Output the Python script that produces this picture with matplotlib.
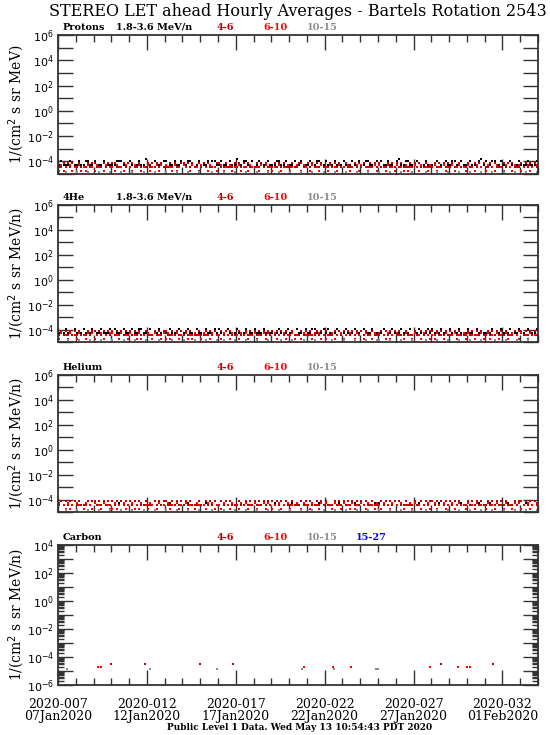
import numpy as np
import matplotlib
matplotlib.use("Agg")
import matplotlib.pyplot as plt
from matplotlib.ticker import FixedLocator, NullFormatter

# Bartels rotation 2543: day-of-year 7 .. 34 (2020)
day_start, day_end = 7, 34
tick_days = [7, 12, 17, 22, 27, 32]
tick_labels = ["2020-007\n07Jan2020", "2020-012\n12Jan2020", "2020-017\n17Jan2020",
               "2020-022\n22Jan2020", "2020-027\n27Jan2020", "2020-032\n01Feb2020"]

# counts per 3-hour bin (8 per day, 216 per series); flux = count * base level
prot_18 = ("121112011211221120112111" "112221102111211311021112" "201121121122101211121221"
           "121102113112211201211121" "112211201121121112012211" "211121112101211211221112"
           "121121102311221112011211" "112011211221121102111231" "211221121102111211121112")
prot_46 = ("112121211211121221112121" "221112121211211121212121" "112121122121211212121112"
           "211211121212121112121211" "121212111211221121212121" "112121211211121212112121"
           "211121212121112121211211" "121212121211211121121212" "112121112121211121212121")
prot_610 = ("131203120312130213201302" "213021302130312031203130" "302131203201302130213021"
            "031203120312013202130312" "120312031203013201302130" "213021302031203130212031"
            "302130213021312032130213" "031203120312302130213020" "130213021302130312031203")
prot_1015 = ("000100001000010000100001" "000010000100001000010000" "100001000010000100000100"
             "001000010000100001000010" "000100001000010000100001" "000010000100001000010000"
             "100001000010000100000100" "001000010000100001000010" "000100001000010000100001")

he4_18 = ("111211021112111201121112" "121102111211221112011211" "112111201121112111211021"
          "211021112111201121112111" "111211121102111211221112" "121112011211121102111211"
          "112011211121112011211121" "211121102111211121102111" "111201121112111211021112")
he4_46 = ("121212121211121221212121" "212121212121211211121212" "211212121212111211212121"
          "121212111211212121212121" "212121211211121212112121" "211121212121212121211211"
          "121212121211211121121212" "212121212121211121212121" "121212121211121221212121")
he4_610 = ("130213021302130312031203" "302130213021312032130213" "131203120312130213201302"
           "213021302130312031203130" "031203120312013202130312" "120312031203013201302130"
           "302131203201302130213021" "213021302031203130212031" "031203120312302130213020")
he4_1015 = ("000010000100001000010000" "100001000010000100000100" "000100001000010000100001"
            "001000010000100001000010" "000010000100001000010000" "000100001000010000100001"
            "100001000010000100000100" "001000010000100001000010" "000010000100001000010000")

hel_18 = ("100000001000000010000000" "000100000000010000000100" "001000000010000000100000"
          "000000100000000010000000" "010000000100000000000100" "000000100000010000000010"
          "100000000010000000100000" "000100000000010000000100" "001000000010000000100000")
hel_46 = ("121212121211121221212121" "212121212121211211121212" "211212121212111211212121"
          "121212111211212121212121" "212121211211121212112121" "211121212121212121211211"
          "121212121211211121121212" "212121212121211121212121" "121212121211121221212121")
hel_610 = ("302131203201302130213021" "131203120312130213201302" "031203120312013202130312"
           "213021302130312031203130" "120312031203013201302130" "302130213021312032130213"
           "213021302031203130212031" "031203120312302130213020" "130213021302130312031203")
hel_1015 = ("000100001000010000100001" "000010000100001000010000" "100001000010000100000100"
            "001000010000100001000010" "000100001000010000100001" "000010000100001000010000"
            "100001000010000100000100" "001000010000100001000010" "000100001000010000100001")

# base flux of one count for each channel, per panel
base_prot = [5.2e-5, 3.6e-5, 1.7e-5, 1.35e-5]
base_he4 = [5.2e-5, 3.6e-5, 1.7e-5, 1.35e-5]
base_hel = [5.2e-5, 3.6e-5, 1.7e-5, 1.35e-5]

# carbon: sparse single counts (day of year, flux)
c_46_days = [10.0, 11.9, 15.0, 16.85, 28.55, 31.45]
c_46_flux = [3.4e-5, 3.4e-5, 3.4e-5, 3.4e-5, 3.4e-5, 3.4e-5]
c_610_days = [9.25, 9.4, 20.85, 22.45, 23.5, 27.95, 29.5, 30.0, 30.15]
c_610_flux = [1.8e-5, 1.8e-5, 1.8e-5, 1.8e-5, 1.8e-5, 1.8e-5, 1.8e-5, 1.8e-5, 1.8e-5]
c_1015_days = [7.5, 12.2, 15.95, 20.7, 22.55, 24.9, 25.0]
c_1015_flux = [1.35e-5, 1.35e-5, 1.35e-5, 1.35e-5, 1.35e-5, 1.35e-5, 1.35e-5]

colors = ["black", "#c00000", "#ff0000", "#8c8c8c", "#0000ff"]
chan_labels = ["1.8-3.6 MeV/n", "4-6", "6-10", "10-15", "15-27"]
chan_px = [116, 217, 263, 307, 356]

W, H = 550, 735
fig = plt.figure(figsize=(W / 100, H / 100), dpi=100)
serif = "DejaVu Serif"

fig.text(298 / W, 1 - 11 / H, "STEREO LET ahead Hourly Averages - Bartels Rotation 2543",
         ha="center", va="center", fontsize=11.5, family=serif)
fig.text(300 / W, 1 - 728 / H, "Public Level 1 Data. Wed May 13 10:54:43 PDT 2020",
         ha="center", va="center", fontsize=6.5, family=serif, fontweight="bold")

panels = [
    ("Protons", (35, 174), (1e-5, 1e6), [prot_18, prot_46, prot_610, prot_1015], base_prot,
     "1/(cm$^2$ s sr MeV)"),
    ("4He", (205, 342), (1e-5, 1e6), [he4_18, he4_46, he4_610, he4_1015], base_he4,
     "1/(cm$^2$ s sr MeV/n)"),
    ("Helium", (375, 512), (1e-5, 1e6), [hel_18, hel_46, hel_610, hel_1015], base_hel,
     "1/(cm$^2$ s sr MeV/n)"),
    ("Carbon", (545, 685), (1e-6, 1e4), None, None, "1/(cm$^2$ s sr MeV/n)"),
]

left, right = 58, 538
for k, (name, (top, bot), ylim, series, bases, ylab) in enumerate(panels):
    ax = fig.add_axes([left / W, 1 - bot / H, (right - left) / W, (bot - top) / H])
    ax.set_yscale("log")
    ax.set_xlim(day_start, day_end)
    ax.set_ylim(*ylim)

    if series is not None:
        for s, b, c in zip(series, bases, colors):
            cnt = np.array([int(ch) for ch in s], dtype=float)
            x = day_start + (np.arange(len(cnt)) + 0.5) * 3 / 24
            y = np.where(cnt > 0, cnt * b, np.nan)
            ax.plot(x, y, ls="none", marker="s", ms=1.7, mew=0, color=c)
    else:
        ax.plot(c_1015_days, c_1015_flux, ls="none", marker="s", ms=1.6, mew=0, color=colors[3])
        ax.plot(c_46_days, c_46_flux, ls="none", marker="s", ms=1.8, mew=0, color=colors[1])
        ax.plot(c_610_days, c_610_flux, ls="none", marker="s", ms=1.8, mew=0, color=colors[2])

    # ticks
    lo, hi = int(np.log10(ylim[0])), int(np.log10(ylim[1]))
    ax.yaxis.set_major_locator(FixedLocator([10.0 ** e for e in range(lo, hi + 1)]))
    ylabels = ["$10^{%d}$" % e if (e - hi) % 2 == 0 and e != lo else "" for e in range(lo, hi + 1)]
    if name == "Carbon":
        ylabels[0] = "$10^{%d}$" % lo
        minors = [m * 10.0 ** e for e in range(lo, hi) for m in range(2, 10)]
        ax.yaxis.set_minor_locator(FixedLocator(minors))
    else:
        ax.yaxis.set_minor_locator(FixedLocator([]))
    ax.set_yticklabels(ylabels)
    ax.yaxis.set_minor_formatter(NullFormatter())
    ax.xaxis.set_major_locator(FixedLocator(tick_days))
    ax.xaxis.set_minor_locator(FixedLocator(list(range(day_start, day_end + 1))))
    if k == 3:
        ax.set_xticklabels(tick_labels, family=serif, fontsize=9, linespacing=0.95)
    else:
        ax.set_xticklabels([])
    ax.tick_params(which="both", direction="in", top=True, right=True, color="#333333", width=1.0)
    ax.tick_params(which="major", length=11)
    ax.tick_params(axis="y", which="major", labelsize=8, pad=3)
    ax.tick_params(axis="x", which="major", pad=9)
    ax.tick_params(axis="x", which="minor", length=5)
    ax.tick_params(axis="y", which="minor", length=4)
    for lab in ax.get_yticklabels():
        lab.set_family(serif)
    for sp in ax.spines.values():
        sp.set_linewidth(1.3)
        sp.set_color("#333333")

    ax.set_ylabel(ylab, family=serif, fontsize=10)
    ax.yaxis.set_label_coords(-0.064, 0.5)

    # header labels above the panel
    ty = 1 - (top - 3) / H
    fig.text(63 / W, ty, name, fontsize=7, family=serif, fontweight="bold", va="bottom")
    nch = 5 if name == "Carbon" else 4
    for j in range(nch):
        if name in ("Carbon", "Helium") and j == 0:
            continue
        fig.text(chan_px[j] / W, ty, chan_labels[j], fontsize=7, family=serif,
                 fontweight="bold", va="bottom", color=colors[j])

fig.savefig("out.png", dpi=100)
